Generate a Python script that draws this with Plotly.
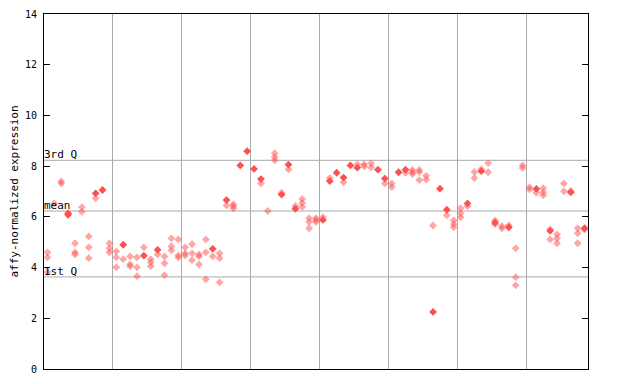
import plotly.graph_objects as go

# ---- data ----
light_samples = [0, 0, 0, 1, 2, 2, 4, 4, 4, 5, 5, 6, 6, 6, 7, 9, 9, 9, 10, 10, 10, 11,
                 12, 12, 12, 13, 13, 13, 14, 15, 15, 15, 16, 17, 17, 17, 18, 18, 18,
                 19, 19, 19, 20, 20, 20, 21, 21, 21, 22, 22, 22, 23, 23, 23, 24,
                 25, 25, 25, 26, 27, 27, 27, 31, 32, 33, 33, 33, 34, 35, 36,
                 37, 37, 37, 38, 38, 38, 39, 39, 39, 40, 41, 43, 45, 46, 46, 47, 47,
                 49, 50, 50, 52, 53, 53, 53, 54, 54, 54, 55, 55, 56, 58,
                 59, 59, 59, 60, 60, 60, 61, 62, 62, 63, 64, 64, 65, 65, 66, 66, 67,
                 68, 68, 68, 69, 69, 70, 70, 71, 72, 72, 72, 73, 73, 74, 74, 74,
                 75, 75, 76, 77, 77, 77, 78]
light_values = [4.60, 4.40, 3.82, 6.53, 7.40, 7.32, 4.96, 4.60, 4.52, 6.38, 6.20, 5.23, 4.80, 4.37,
                6.73, 4.96, 4.76, 4.60, 4.64, 4.40, 4.01, 4.33,
                4.44, 4.13, 4.05, 4.40, 4.01, 3.66, 4.80, 4.33, 4.21, 4.05, 4.52, 4.44, 4.17, 3.70,
                5.15, 4.84, 4.68, 5.11, 4.48, 4.40, 4.80, 4.56, 4.48, 4.92, 4.56, 4.29,
                4.52, 4.44, 4.13, 5.11, 4.60, 3.54, 4.44,
                4.56, 4.37, 3.42, 6.45, 6.50, 6.42, 6.34, 7.32, 6.23, 8.51, 8.35, 8.23, 6.95, 7.87, 6.43,
                6.70, 6.55, 6.39, 5.95, 5.80, 5.55, 5.95, 5.88, 5.80, 5.99, 7.53, 7.36, 8.07, 8.07, 7.99,
                8.11, 7.95, 7.32, 7.32, 7.17, 7.74, 7.85, 7.77, 7.69, 7.85, 7.77, 7.45, 7.62, 7.47,
                5.66, 6.06, 5.86, 5.71, 5.59, 6.34, 6.14, 5.98, 6.42, 7.77, 7.53, 7.88, 8.12, 7.76,
                5.86, 5.71, 5.63, 5.55, 5.66, 4.76, 3.62, 3.30, 8.03, 7.93, 7.17, 7.08, 6.95,
                7.13, 6.97, 6.85, 5.51, 5.11, 5.31, 5.15, 4.96, 7.32, 7.01, 7.02, 5.55, 5.35, 4.96, 5.50]

solid_samples = [3, 3, 7, 8, 11, 14, 16, 24, 26, 28, 29, 30, 31, 34, 35, 36, 40, 41, 42, 43,
                 44, 45, 48, 49, 51, 52, 56, 57, 58, 61, 63, 65, 67, 71, 73, 76, 78]
solid_values = [6.14, 6.08, 6.93, 7.06, 4.90, 4.47, 4.70, 4.74, 6.66, 8.03, 8.59, 7.89, 7.49,
                6.88, 8.06, 6.32, 5.88, 7.41, 7.74, 7.55, 8.03, 7.94, 7.86, 7.51, 7.76, 7.86,
                2.25, 7.11, 6.28, 6.53, 7.80, 5.77, 5.59, 7.10, 5.45, 6.97, 5.55]

n_samples = 79
group_size = 10
quartile_names = ["3rd Q", "mean", "1st Q"]
quartile_values = [8.23, 6.23, 3.63]
y_ticks = [0, 2, 4, 6, 8, 10, 12, 14]

mono = "DejaVu Sans Mono"

fig = go.Figure()
fig.add_trace(go.Scatter(
    x=light_samples, y=light_values, mode="markers",
    marker=dict(symbol="diamond", size=6, color="rgba(255,80,80,0.5)",
                line=dict(width=0)),
    hoverinfo="y", showlegend=False))
fig.add_trace(go.Scatter(
    x=solid_samples, y=solid_values, mode="markers",
    marker=dict(symbol="diamond", size=6, color="#ff5050", line=dict(width=0)),
    hoverinfo="y", showlegend=False))

for name, val in zip(quartile_names, quartile_values):
    fig.add_shape(type="line", xref="paper", x0=0, x1=1, yref="y", y0=val, y1=val,
                  line=dict(color="#aaaaaa", width=1), layer="below")
    fig.add_annotation(x=0, xref="paper", y=val, yref="y", text=name, showarrow=False,
                       xanchor="left", yanchor="bottom", xshift=-2, yshift=-3,
                       font=dict(family=mono, size=11, color="black"))

grid_vals = [g - 0.5 for g in range(group_size, n_samples, group_size)]

# the page body has an 8px margin, so the figure is sized to fit inside it
fig.update_layout(
    width=632, height=376,
    margin=dict(l=36, r=52, t=6, b=15, autoexpand=False),
    paper_bgcolor="white", plot_bgcolor="white",
    xaxis=dict(range=[-0.5, n_samples - 0.5], tickvals=grid_vals, showticklabels=False,
               ticks="", showgrid=True, gridcolor="#aaaaaa", gridwidth=1, automargin=False,
               showline=True, linecolor="black", linewidth=1, mirror=True, zeroline=False),
    yaxis=dict(range=[0, 14], tickvals=y_ticks, ticks="inside", ticklen=6,
               tickcolor="black", showgrid=False, zeroline=False, automargin=False,
               showline=True, linecolor="black", linewidth=1, mirror="ticks",
               ticklabelstandoff=4,
               tickfont=dict(family=mono, size=10, color="black"),
               title=dict(text="affy-normalized expression", standoff=6,
                          font=dict(family=mono, size=11, color="black"))),
    font=dict(family=mono, color="black"),
)

fig.write_html("out.html")
